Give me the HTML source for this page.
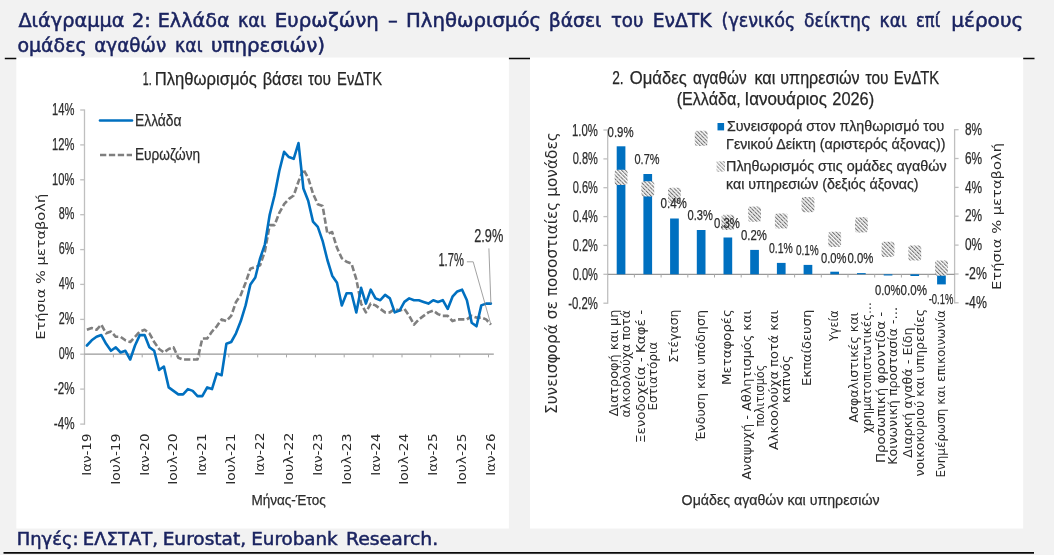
<!DOCTYPE html>
<html lang="el"><head><meta charset="utf-8"><title>Διάγραμμα 2</title><style>html,body{margin:0;padding:0;background:#f2f2f2}svg{display:block;filter:blur(0.45px)}</style></head><body>
<svg width="1054" height="555" viewBox="0 0 1054 555">
<defs><pattern id="hatch" width="2.7" height="4.6" patternUnits="userSpaceOnUse" patternTransform="rotate(-45)"><rect width="2.7" height="4.6" fill="#fbfbfb"/><rect width="1.1" height="4.6" fill="#6e6e6e"/><rect width="1.1" height="1.1" y="1.8" fill="#b5b5b5"/></pattern></defs>
<rect x="0.0" y="0.0" width="1054.0" height="555.0" fill="#f2f2f2" />
<line x1="4.8" y1="58.5" x2="1034.5" y2="58.5" stroke="#0a0a0a" stroke-width="1.7" />
<line x1="3.5" y1="552.8" x2="1034.0" y2="552.8" stroke="#0a0a0a" stroke-width="1.7" />
<rect x="16.3" y="57.1" width="492.6" height="471.4" fill="#ffffff" />
<rect x="530.0" y="57.1" width="493.2" height="471.4" fill="#ffffff" />
<text x="18.40" y="26.60" font-family='"DejaVu Sans", "Liberation Sans", sans-serif' font-size="19.5" fill="#1a2360" textLength="106.04" lengthAdjust="spacingAndGlyphs" stroke="#1a2360" stroke-width="0.5">Διάγραμμα</text>
<text x="132.01" y="26.60" font-family='"DejaVu Sans", "Liberation Sans", sans-serif' font-size="19.5" fill="#1a2360" textLength="18.85" lengthAdjust="spacingAndGlyphs" stroke="#1a2360" stroke-width="0.5">2:</text>
<text x="157.72" y="26.60" font-family='"DejaVu Sans", "Liberation Sans", sans-serif' font-size="19.5" fill="#1a2360" textLength="71.93" lengthAdjust="spacingAndGlyphs" stroke="#1a2360" stroke-width="0.5">Ελλάδα</text>
<text x="237.89" y="26.60" font-family='"DejaVu Sans", "Liberation Sans", sans-serif' font-size="19.5" fill="#1a2360" textLength="28.15" lengthAdjust="spacingAndGlyphs" stroke="#1a2360" stroke-width="0.5">και</text>
<text x="274.89" y="26.60" font-family='"DejaVu Sans", "Liberation Sans", sans-serif' font-size="19.5" fill="#1a2360" textLength="103.89" lengthAdjust="spacingAndGlyphs" stroke="#1a2360" stroke-width="0.5">Ευρωζώνη</text>
<text x="388.00" y="26.60" font-family='"DejaVu Sans", "Liberation Sans", sans-serif' font-size="19.5" fill="#1a2360" textLength="9.75" lengthAdjust="spacingAndGlyphs" stroke="#1a2360" stroke-width="0.5">–</text>
<text x="406.09" y="26.60" font-family='"DejaVu Sans", "Liberation Sans", sans-serif' font-size="19.5" fill="#1a2360" textLength="135.07" lengthAdjust="spacingAndGlyphs" stroke="#1a2360" stroke-width="0.5">Πληθωρισμός</text>
<text x="548.74" y="26.60" font-family='"DejaVu Sans", "Liberation Sans", sans-serif' font-size="19.5" fill="#1a2360" textLength="52.64" lengthAdjust="spacingAndGlyphs" stroke="#1a2360" stroke-width="0.5">βάσει</text>
<text x="610.90" y="26.60" font-family='"DejaVu Sans", "Liberation Sans", sans-serif' font-size="19.5" fill="#1a2360" textLength="32.66" lengthAdjust="spacingAndGlyphs" stroke="#1a2360" stroke-width="0.5">του</text>
<text x="652.74" y="26.60" font-family='"DejaVu Sans", "Liberation Sans", sans-serif' font-size="19.5" fill="#1a2360" textLength="58.80" lengthAdjust="spacingAndGlyphs" stroke="#1a2360" stroke-width="0.5">ΕνΔΤΚ</text>
<text x="721.60" y="26.60" font-family='"DejaVu Sans", "Liberation Sans", sans-serif' font-size="19.5" fill="#1a2360" textLength="73.70" lengthAdjust="spacingAndGlyphs" stroke="#1a2360" stroke-width="0.5">(γενικός</text>
<text x="804.12" y="26.60" font-family='"DejaVu Sans", "Liberation Sans", sans-serif' font-size="19.5" fill="#1a2360" textLength="66.95" lengthAdjust="spacingAndGlyphs" stroke="#1a2360" stroke-width="0.5">δείκτης</text>
<text x="879.52" y="26.60" font-family='"DejaVu Sans", "Liberation Sans", sans-serif' font-size="19.5" fill="#1a2360" textLength="27.31" lengthAdjust="spacingAndGlyphs" stroke="#1a2360" stroke-width="0.5">και</text>
<text x="916.07" y="26.60" font-family='"DejaVu Sans", "Liberation Sans", sans-serif' font-size="19.5" fill="#1a2360" textLength="24.10" lengthAdjust="spacingAndGlyphs" stroke="#1a2360" stroke-width="0.5">επί</text>
<text x="951.27" y="26.60" font-family='"DejaVu Sans", "Liberation Sans", sans-serif' font-size="19.5" fill="#1a2360" textLength="72.02" lengthAdjust="spacingAndGlyphs" stroke="#1a2360" stroke-width="0.5">μέρους</text>
<text x="17.43" y="51.80" font-family='"DejaVu Sans", "Liberation Sans", sans-serif' font-size="19.5" fill="#1a2360" textLength="69.18" lengthAdjust="spacingAndGlyphs" stroke="#1a2360" stroke-width="0.5">ομάδες</text>
<text x="94.26" y="51.80" font-family='"DejaVu Sans", "Liberation Sans", sans-serif' font-size="19.5" fill="#1a2360" textLength="71.88" lengthAdjust="spacingAndGlyphs" stroke="#1a2360" stroke-width="0.5">αγαθών</text>
<text x="175.11" y="51.80" font-family='"DejaVu Sans", "Liberation Sans", sans-serif' font-size="19.5" fill="#1a2360" textLength="27.42" lengthAdjust="spacingAndGlyphs" stroke="#1a2360" stroke-width="0.5">και</text>
<text x="210.98" y="51.80" font-family='"DejaVu Sans", "Liberation Sans", sans-serif' font-size="19.5" fill="#1a2360" textLength="114.05" lengthAdjust="spacingAndGlyphs" stroke="#1a2360" stroke-width="0.5">υπηρεσιών)</text>
<text x="16.80" y="544.80" font-family='"DejaVu Sans", "Liberation Sans", sans-serif' font-size="18" fill="#1a2360" textLength="61.65" lengthAdjust="spacingAndGlyphs" stroke="#1a2360" stroke-width="0.5">Πηγές:</text>
<text x="82.80" y="544.80" font-family='"DejaVu Sans", "Liberation Sans", sans-serif' font-size="18" fill="#1a2360" textLength="75.23" lengthAdjust="spacingAndGlyphs" stroke="#1a2360" stroke-width="0.5">ΕΛΣΤΑΤ,</text>
<text x="162.67" y="544.80" font-family='"DejaVu Sans", "Liberation Sans", sans-serif' font-size="18" fill="#1a2360" textLength="83.50" lengthAdjust="spacingAndGlyphs" stroke="#1a2360" stroke-width="0.5">Eurostat,</text>
<text x="251.28" y="544.80" font-family='"DejaVu Sans", "Liberation Sans", sans-serif' font-size="18" fill="#1a2360" textLength="86.43" lengthAdjust="spacingAndGlyphs" stroke="#1a2360" stroke-width="0.5">Eurobank</text>
<text x="345.95" y="544.80" font-family='"DejaVu Sans", "Liberation Sans", sans-serif' font-size="18" fill="#1a2360" textLength="92.35" lengthAdjust="spacingAndGlyphs" stroke="#1a2360" stroke-width="0.5">Research.</text>
<text x="142.82" y="85.30" font-family='"Liberation Sans", sans-serif' font-size="18" fill="#262626" stroke="#262626" stroke-width="0.25" textLength="8.77" lengthAdjust="spacingAndGlyphs" >1.</text>
<text x="154.78" y="85.30" font-family='"Liberation Sans", sans-serif' font-size="18" fill="#262626" stroke="#262626" stroke-width="0.25" textLength="102.02" lengthAdjust="spacingAndGlyphs" >Πληθωρισμός</text>
<text x="262.69" y="85.30" font-family='"Liberation Sans", sans-serif' font-size="18" fill="#262626" stroke="#262626" stroke-width="0.25" textLength="39.81" lengthAdjust="spacingAndGlyphs" >βάσει</text>
<text x="308.00" y="85.30" font-family='"Liberation Sans", sans-serif' font-size="18" fill="#262626" stroke="#262626" stroke-width="0.25" textLength="22.92" lengthAdjust="spacingAndGlyphs" >του</text>
<text x="337.08" y="85.30" font-family='"Liberation Sans", sans-serif' font-size="18" fill="#262626" stroke="#262626" stroke-width="0.25" textLength="45.13" lengthAdjust="spacingAndGlyphs" >ΕνΔΤΚ</text>
<line x1="84.5" y1="109.4" x2="84.5" y2="424.7" stroke="#bfbfbf" stroke-width="1.3" />
<line x1="80.2" y1="424.1" x2="84.5" y2="424.1" stroke="#bfbfbf" stroke-width="1.3" />
<text x="53.80" y="428.85" font-family='"Liberation Sans", sans-serif' font-size="16" fill="#2c2c2c" stroke="#2c2c2c" stroke-width="0.25" textLength="20.66" lengthAdjust="spacingAndGlyphs" >-4%</text>
<line x1="80.2" y1="389.1" x2="84.5" y2="389.1" stroke="#bfbfbf" stroke-width="1.3" />
<text x="53.80" y="393.95" font-family='"Liberation Sans", sans-serif' font-size="16" fill="#2c2c2c" stroke="#2c2c2c" stroke-width="0.25" textLength="20.66" lengthAdjust="spacingAndGlyphs" >-2%</text>
<line x1="80.2" y1="354.2" x2="84.5" y2="354.2" stroke="#bfbfbf" stroke-width="1.3" />
<text x="58.80" y="359.05" font-family='"Liberation Sans", sans-serif' font-size="16" fill="#2c2c2c" stroke="#2c2c2c" stroke-width="0.25" textLength="15.65" lengthAdjust="spacingAndGlyphs" >0%</text>
<line x1="80.2" y1="319.4" x2="84.5" y2="319.4" stroke="#bfbfbf" stroke-width="1.3" />
<text x="58.80" y="324.15" font-family='"Liberation Sans", sans-serif' font-size="16" fill="#2c2c2c" stroke="#2c2c2c" stroke-width="0.25" textLength="15.65" lengthAdjust="spacingAndGlyphs" >2%</text>
<line x1="80.2" y1="284.4" x2="84.5" y2="284.4" stroke="#bfbfbf" stroke-width="1.3" />
<text x="58.80" y="289.25" font-family='"Liberation Sans", sans-serif' font-size="16" fill="#2c2c2c" stroke="#2c2c2c" stroke-width="0.25" textLength="15.65" lengthAdjust="spacingAndGlyphs" >4%</text>
<line x1="80.2" y1="249.6" x2="84.5" y2="249.6" stroke="#bfbfbf" stroke-width="1.3" />
<text x="58.80" y="254.35" font-family='"Liberation Sans", sans-serif' font-size="16" fill="#2c2c2c" stroke="#2c2c2c" stroke-width="0.25" textLength="15.65" lengthAdjust="spacingAndGlyphs" >6%</text>
<line x1="80.2" y1="214.7" x2="84.5" y2="214.7" stroke="#bfbfbf" stroke-width="1.3" />
<text x="58.80" y="219.45" font-family='"Liberation Sans", sans-serif' font-size="16" fill="#2c2c2c" stroke="#2c2c2c" stroke-width="0.25" textLength="15.65" lengthAdjust="spacingAndGlyphs" >8%</text>
<line x1="80.2" y1="179.8" x2="84.5" y2="179.8" stroke="#bfbfbf" stroke-width="1.3" />
<text x="52.10" y="184.55" font-family='"Liberation Sans", sans-serif' font-size="16" fill="#2c2c2c" stroke="#2c2c2c" stroke-width="0.25" textLength="22.36" lengthAdjust="spacingAndGlyphs" >10%</text>
<line x1="80.2" y1="144.9" x2="84.5" y2="144.9" stroke="#bfbfbf" stroke-width="1.3" />
<text x="52.10" y="149.65" font-family='"Liberation Sans", sans-serif' font-size="16" fill="#2c2c2c" stroke="#2c2c2c" stroke-width="0.25" textLength="22.36" lengthAdjust="spacingAndGlyphs" >12%</text>
<line x1="80.2" y1="110.0" x2="84.5" y2="110.0" stroke="#bfbfbf" stroke-width="1.3" />
<text x="52.10" y="114.75" font-family='"Liberation Sans", sans-serif' font-size="16" fill="#2c2c2c" stroke="#2c2c2c" stroke-width="0.25" textLength="22.36" lengthAdjust="spacingAndGlyphs" >14%</text>
<line x1="84.5" y1="354.2" x2="493.8" y2="354.2" stroke="#999999" stroke-width="1.3" />
<line x1="113.4" y1="354.2" x2="113.4" y2="357.4" stroke="#a8a8a8" stroke-width="1.0" />
<line x1="142.2" y1="354.2" x2="142.2" y2="357.4" stroke="#a8a8a8" stroke-width="1.0" />
<line x1="171.1" y1="354.2" x2="171.1" y2="357.4" stroke="#a8a8a8" stroke-width="1.0" />
<line x1="199.9" y1="354.2" x2="199.9" y2="357.4" stroke="#a8a8a8" stroke-width="1.0" />
<line x1="228.8" y1="354.2" x2="228.8" y2="357.4" stroke="#a8a8a8" stroke-width="1.0" />
<line x1="257.7" y1="354.2" x2="257.7" y2="357.4" stroke="#a8a8a8" stroke-width="1.0" />
<line x1="286.5" y1="354.2" x2="286.5" y2="357.4" stroke="#a8a8a8" stroke-width="1.0" />
<line x1="315.4" y1="354.2" x2="315.4" y2="357.4" stroke="#a8a8a8" stroke-width="1.0" />
<line x1="344.2" y1="354.2" x2="344.2" y2="357.4" stroke="#a8a8a8" stroke-width="1.0" />
<line x1="373.1" y1="354.2" x2="373.1" y2="357.4" stroke="#a8a8a8" stroke-width="1.0" />
<line x1="402.0" y1="354.2" x2="402.0" y2="357.4" stroke="#a8a8a8" stroke-width="1.0" />
<line x1="430.8" y1="354.2" x2="430.8" y2="357.4" stroke="#a8a8a8" stroke-width="1.0" />
<line x1="459.7" y1="354.2" x2="459.7" y2="357.4" stroke="#a8a8a8" stroke-width="1.0" />
<line x1="488.5" y1="354.2" x2="488.5" y2="357.4" stroke="#a8a8a8" stroke-width="1.0" />
<text transform="translate(90.91,475.83) rotate(-90)" font-family='"DejaVu Sans", "Liberation Sans", sans-serif' font-size="13" fill="#2c2c2c" textLength="42.32" lengthAdjust="spacingAndGlyphs" >Ιαν-19</text>
<text transform="translate(119.77,484.86) rotate(-90)" font-family='"DejaVu Sans", "Liberation Sans", sans-serif' font-size="13" fill="#2c2c2c" textLength="51.35" lengthAdjust="spacingAndGlyphs" >Ιουλ-19</text>
<text transform="translate(148.62,475.83) rotate(-90)" font-family='"DejaVu Sans", "Liberation Sans", sans-serif' font-size="13" fill="#2c2c2c" textLength="42.32" lengthAdjust="spacingAndGlyphs" >Ιαν-20</text>
<text transform="translate(177.49,484.86) rotate(-90)" font-family='"DejaVu Sans", "Liberation Sans", sans-serif' font-size="13" fill="#2c2c2c" textLength="51.35" lengthAdjust="spacingAndGlyphs" >Ιουλ-20</text>
<text transform="translate(206.34,475.83) rotate(-90)" font-family='"DejaVu Sans", "Liberation Sans", sans-serif' font-size="13" fill="#2c2c2c" textLength="42.32" lengthAdjust="spacingAndGlyphs" >Ιαν-21</text>
<text transform="translate(235.20,484.86) rotate(-90)" font-family='"DejaVu Sans", "Liberation Sans", sans-serif' font-size="13" fill="#2c2c2c" textLength="51.35" lengthAdjust="spacingAndGlyphs" >Ιουλ-21</text>
<text transform="translate(264.06,475.86) rotate(-90)" font-family='"DejaVu Sans", "Liberation Sans", sans-serif' font-size="13" fill="#2c2c2c" textLength="43.41" lengthAdjust="spacingAndGlyphs" >Ιαν-22</text>
<text transform="translate(292.92,484.89) rotate(-90)" font-family='"DejaVu Sans", "Liberation Sans", sans-serif' font-size="13" fill="#2c2c2c" textLength="52.47" lengthAdjust="spacingAndGlyphs" >Ιουλ-22</text>
<text transform="translate(321.78,475.83) rotate(-90)" font-family='"DejaVu Sans", "Liberation Sans", sans-serif' font-size="13" fill="#2c2c2c" textLength="42.32" lengthAdjust="spacingAndGlyphs" >Ιαν-23</text>
<text transform="translate(350.64,484.86) rotate(-90)" font-family='"DejaVu Sans", "Liberation Sans", sans-serif' font-size="13" fill="#2c2c2c" textLength="51.35" lengthAdjust="spacingAndGlyphs" >Ιουλ-23</text>
<text transform="translate(379.50,475.83) rotate(-90)" font-family='"DejaVu Sans", "Liberation Sans", sans-serif' font-size="13" fill="#2c2c2c" textLength="42.32" lengthAdjust="spacingAndGlyphs" >Ιαν-24</text>
<text transform="translate(408.36,484.86) rotate(-90)" font-family='"DejaVu Sans", "Liberation Sans", sans-serif' font-size="13" fill="#2c2c2c" textLength="51.35" lengthAdjust="spacingAndGlyphs" >Ιουλ-24</text>
<text transform="translate(437.22,475.83) rotate(-90)" font-family='"DejaVu Sans", "Liberation Sans", sans-serif' font-size="13" fill="#2c2c2c" textLength="42.32" lengthAdjust="spacingAndGlyphs" >Ιαν-25</text>
<text transform="translate(466.08,484.86) rotate(-90)" font-family='"DejaVu Sans", "Liberation Sans", sans-serif' font-size="13" fill="#2c2c2c" textLength="51.35" lengthAdjust="spacingAndGlyphs" >Ιουλ-25</text>
<text transform="translate(494.94,475.83) rotate(-90)" font-family='"DejaVu Sans", "Liberation Sans", sans-serif' font-size="13" fill="#2c2c2c" textLength="42.32" lengthAdjust="spacingAndGlyphs" >Ιαν-26</text>
<text x="251.43" y="505.30" font-family='"Liberation Sans", sans-serif' font-size="15.5" fill="#2c2c2c" stroke="#2c2c2c" stroke-width="0.25" textLength="74.28" lengthAdjust="spacingAndGlyphs" >Μήνας-Έτος</text>
<text transform="translate(44.60,339.72) rotate(-90)" font-family='"DejaVu Sans", "Liberation Sans", sans-serif' font-size="13" fill="#2c2c2c" textLength="145.89" lengthAdjust="spacingAndGlyphs" >Ετήσια % μεταβολή</text>
<polyline points="86.9,329.8 91.7,328.1 96.5,329.8 101.3,324.6 106.1,333.3 111.0,331.6 115.8,336.8 120.6,336.8 125.4,340.3 130.2,342.0 135.0,336.8 139.8,331.6 144.6,329.8 149.4,333.3 154.2,342.0 159.1,349.0 163.9,352.5 168.7,349.0 173.5,347.3 178.3,357.7 183.1,359.5 187.9,359.5 192.7,359.5 197.5,359.5 202.3,338.5 207.2,338.5 212.0,331.6 216.8,326.3 221.6,319.4 226.4,321.1 231.2,315.9 236.0,301.9 240.8,294.9 245.6,282.7 250.4,268.7 255.3,267.0 260.1,265.3 264.9,251.3 269.7,225.1 274.5,225.1 279.3,212.9 284.1,204.2 288.9,198.9 293.7,195.5 298.5,181.5 303.4,169.3 308.2,178.0 313.0,193.7 317.8,204.2 322.6,205.9 327.4,233.8 332.2,232.1 337.0,247.8 341.8,258.3 346.6,261.8 351.5,263.5 356.3,279.2 361.1,303.6 365.9,312.4 370.7,303.6 375.5,305.4 380.3,308.9 385.1,312.4 389.9,312.4 394.7,308.9 399.6,310.6 404.4,308.9 409.2,315.9 414.0,324.6 418.8,319.4 423.6,315.9 428.4,312.4 433.2,310.6 438.0,314.1 442.8,315.9 447.7,315.9 452.5,321.1 457.3,319.4 462.1,319.4 466.9,319.4 471.7,315.9 476.5,317.6 481.3,317.6 486.1,319.4 490.9,324.6" fill="none" stroke="#7f7f7f" stroke-width="2.6" stroke-linejoin="round" stroke-linecap="butt" stroke-dasharray="6.3 2.6"/>
<polyline points="86.9,345.5 91.7,340.3 96.5,336.8 101.3,335.1 106.1,343.8 111.0,350.8 115.8,347.3 120.6,352.5 125.4,350.8 130.2,359.5 135.0,345.5 139.8,335.1 144.6,335.1 149.4,347.3 154.2,350.8 159.1,370.0 163.9,366.5 168.7,387.4 173.5,390.9 178.3,394.4 183.1,394.4 187.9,389.1 192.7,390.9 197.5,396.1 202.3,396.1 207.2,387.4 212.0,389.1 216.8,373.4 221.6,375.2 226.4,343.8 231.2,342.0 236.0,333.3 240.8,321.1 245.6,305.4 250.4,284.4 255.3,277.5 260.1,258.3 264.9,244.3 269.7,214.7 274.5,195.5 279.3,171.0 284.1,151.8 288.9,157.1 293.7,158.8 298.5,143.1 303.4,188.5 308.2,200.7 313.0,221.6 317.8,226.9 322.6,240.8 327.4,260.0 332.2,275.7 337.0,282.7 341.8,305.4 346.6,293.2 351.5,293.2 356.3,312.4 361.1,287.9 365.9,303.6 370.7,289.7 375.5,298.4 380.3,300.2 385.1,294.9 389.9,298.4 394.7,312.4 399.6,310.6 404.4,301.9 409.2,298.4 414.0,300.2 418.8,300.2 423.6,301.9 428.4,303.6 433.2,300.2 438.0,301.9 442.8,300.2 447.7,308.9 452.5,296.7 457.3,291.4 462.1,289.7 466.9,300.2 471.7,322.8 476.5,326.3 481.3,305.4 486.1,303.6 490.9,303.6" fill="none" stroke="#0070c0" stroke-width="2.6" stroke-linejoin="round" stroke-linecap="round" />
<line x1="100.0" y1="120.5" x2="132.0" y2="120.5" stroke="#0070c0" stroke-width="2.6" stroke-linecap="round"/>
<text x="134.96" y="125.70" font-family='"Liberation Sans", sans-serif' font-size="16.5" fill="#2c2c2c" stroke="#2c2c2c" stroke-width="0.25" textLength="46.65" lengthAdjust="spacingAndGlyphs" >Ελλάδα</text>
<line x1="100.0" y1="155.0" x2="132.0" y2="155.0" stroke="#7f7f7f" stroke-width="2.6" stroke-dasharray="6.3 2.6"/>
<text x="134.97" y="160.20" font-family='"Liberation Sans", sans-serif' font-size="16.5" fill="#2c2c2c" stroke="#2c2c2c" stroke-width="0.25" textLength="65.17" lengthAdjust="spacingAndGlyphs" >Ευρωζώνη</text>
<text x="474.20" y="241.50" font-family='"Liberation Sans", sans-serif' font-size="18" fill="#2c2c2c" stroke="#2c2c2c" stroke-width="0.25" textLength="29.00" lengthAdjust="spacingAndGlyphs" >2.9%</text>
<text x="438.38" y="266.20" font-family='"Liberation Sans", sans-serif' font-size="18" fill="#2c2c2c" stroke="#2c2c2c" stroke-width="0.25" textLength="25.42" lengthAdjust="spacingAndGlyphs" >1.7%</text>
<polyline points="488.9,248.4 490.9,303.6" fill="none" stroke="#8a8a8a" stroke-width="0.8"/>
<polyline points="466.9,261.8 473.2,261.8 490.9,324.6" fill="none" stroke="#8a8a8a" stroke-width="0.8"/>
<text x="612.20" y="84.00" font-family='"Liberation Sans", sans-serif' font-size="18" fill="#262626" stroke="#262626" stroke-width="0.25" textLength="11.46" lengthAdjust="spacingAndGlyphs" >2.</text>
<text x="629.80" y="84.00" font-family='"Liberation Sans", sans-serif' font-size="18" fill="#262626" stroke="#262626" stroke-width="0.25" textLength="56.90" lengthAdjust="spacingAndGlyphs" >Ομάδες</text>
<text x="693.00" y="84.00" font-family='"Liberation Sans", sans-serif' font-size="18" fill="#262626" stroke="#262626" stroke-width="0.25" textLength="53.70" lengthAdjust="spacingAndGlyphs" >αγαθών</text>
<text x="754.40" y="84.00" font-family='"Liberation Sans", sans-serif' font-size="18" fill="#262626" stroke="#262626" stroke-width="0.25" textLength="20.90" lengthAdjust="spacingAndGlyphs" >και</text>
<text x="780.20" y="84.00" font-family='"Liberation Sans", sans-serif' font-size="18" fill="#262626" stroke="#262626" stroke-width="0.25" textLength="79.50" lengthAdjust="spacingAndGlyphs" >υπηρεσιών</text>
<text x="865.60" y="84.00" font-family='"Liberation Sans", sans-serif' font-size="18" fill="#262626" stroke="#262626" stroke-width="0.25" textLength="22.92" lengthAdjust="spacingAndGlyphs" >του</text>
<text x="893.87" y="84.00" font-family='"Liberation Sans", sans-serif' font-size="18" fill="#262626" stroke="#262626" stroke-width="0.25" textLength="45.43" lengthAdjust="spacingAndGlyphs" >ΕνΔΤΚ</text>
<text x="676.70" y="104.90" font-family='"Liberation Sans", sans-serif' font-size="18" fill="#262626" stroke="#262626" stroke-width="0.25" textLength="64.09" lengthAdjust="spacingAndGlyphs" >(Ελλάδα,</text>
<text x="744.46" y="104.90" font-family='"Liberation Sans", sans-serif' font-size="18" fill="#262626" stroke="#262626" stroke-width="0.25" textLength="82.44" lengthAdjust="spacingAndGlyphs" >Ιανουάριος</text>
<text x="832.30" y="104.90" font-family='"Liberation Sans", sans-serif' font-size="18" fill="#262626" stroke="#262626" stroke-width="0.25" textLength="41.90" lengthAdjust="spacingAndGlyphs" >2026)</text>
<line x1="607.7" y1="129.4" x2="607.7" y2="303.8" stroke="#bfbfbf" stroke-width="1.3" />
<line x1="603.4" y1="303.2" x2="607.7" y2="303.2" stroke="#bfbfbf" stroke-width="1.3" />
<text x="568.20" y="308.66" font-family='"Liberation Sans", sans-serif' font-size="16" fill="#2c2c2c" stroke="#2c2c2c" stroke-width="0.25" textLength="29.66" lengthAdjust="spacingAndGlyphs" >-0.2%</text>
<line x1="603.4" y1="274.3" x2="607.7" y2="274.3" stroke="#bfbfbf" stroke-width="1.3" />
<text x="572.70" y="279.80" font-family='"Liberation Sans", sans-serif' font-size="16" fill="#2c2c2c" stroke="#2c2c2c" stroke-width="0.25" textLength="25.16" lengthAdjust="spacingAndGlyphs" >0.0%</text>
<line x1="603.4" y1="245.4" x2="607.7" y2="245.4" stroke="#bfbfbf" stroke-width="1.3" />
<text x="572.70" y="250.94" font-family='"Liberation Sans", sans-serif' font-size="16" fill="#2c2c2c" stroke="#2c2c2c" stroke-width="0.25" textLength="25.16" lengthAdjust="spacingAndGlyphs" >0.2%</text>
<line x1="603.4" y1="216.6" x2="607.7" y2="216.6" stroke="#bfbfbf" stroke-width="1.3" />
<text x="572.70" y="222.08" font-family='"Liberation Sans", sans-serif' font-size="16" fill="#2c2c2c" stroke="#2c2c2c" stroke-width="0.25" textLength="25.16" lengthAdjust="spacingAndGlyphs" >0.4%</text>
<line x1="603.4" y1="187.7" x2="607.7" y2="187.7" stroke="#bfbfbf" stroke-width="1.3" />
<text x="572.70" y="193.22" font-family='"Liberation Sans", sans-serif' font-size="16" fill="#2c2c2c" stroke="#2c2c2c" stroke-width="0.25" textLength="25.16" lengthAdjust="spacingAndGlyphs" >0.6%</text>
<line x1="603.4" y1="158.9" x2="607.7" y2="158.9" stroke="#bfbfbf" stroke-width="1.3" />
<text x="572.70" y="164.36" font-family='"Liberation Sans", sans-serif' font-size="16" fill="#2c2c2c" stroke="#2c2c2c" stroke-width="0.25" textLength="25.16" lengthAdjust="spacingAndGlyphs" >0.8%</text>
<line x1="603.4" y1="130.0" x2="607.7" y2="130.0" stroke="#bfbfbf" stroke-width="1.3" />
<text x="571.99" y="135.50" font-family='"Liberation Sans", sans-serif' font-size="16" fill="#2c2c2c" stroke="#2c2c2c" stroke-width="0.25" textLength="25.87" lengthAdjust="spacingAndGlyphs" >1.0%</text>
<line x1="954.6" y1="129.1" x2="954.6" y2="303.4" stroke="#bfbfbf" stroke-width="1.3" />
<line x1="954.6" y1="302.8" x2="958.6" y2="302.8" stroke="#bfbfbf" stroke-width="1.3" />
<text x="965.00" y="308.02" font-family='"Liberation Sans", sans-serif' font-size="16" fill="#2c2c2c" stroke="#2c2c2c" stroke-width="0.25" textLength="21.87" lengthAdjust="spacingAndGlyphs" >-4%</text>
<line x1="954.6" y1="274.0" x2="958.6" y2="274.0" stroke="#bfbfbf" stroke-width="1.3" />
<text x="965.00" y="279.16" font-family='"Liberation Sans", sans-serif' font-size="16" fill="#2c2c2c" stroke="#2c2c2c" stroke-width="0.25" textLength="21.87" lengthAdjust="spacingAndGlyphs" >-2%</text>
<line x1="954.6" y1="245.1" x2="958.6" y2="245.1" stroke="#bfbfbf" stroke-width="1.3" />
<text x="965.00" y="250.30" font-family='"Liberation Sans", sans-serif' font-size="16" fill="#2c2c2c" stroke="#2c2c2c" stroke-width="0.25" textLength="17.17" lengthAdjust="spacingAndGlyphs" >0%</text>
<line x1="954.6" y1="216.2" x2="958.6" y2="216.2" stroke="#bfbfbf" stroke-width="1.3" />
<text x="965.00" y="221.44" font-family='"Liberation Sans", sans-serif' font-size="16" fill="#2c2c2c" stroke="#2c2c2c" stroke-width="0.25" textLength="17.17" lengthAdjust="spacingAndGlyphs" >2%</text>
<line x1="954.6" y1="187.4" x2="958.6" y2="187.4" stroke="#bfbfbf" stroke-width="1.3" />
<text x="965.00" y="192.58" font-family='"Liberation Sans", sans-serif' font-size="16" fill="#2c2c2c" stroke="#2c2c2c" stroke-width="0.25" textLength="17.17" lengthAdjust="spacingAndGlyphs" >4%</text>
<line x1="954.6" y1="158.5" x2="958.6" y2="158.5" stroke="#bfbfbf" stroke-width="1.3" />
<text x="965.00" y="163.72" font-family='"Liberation Sans", sans-serif' font-size="16" fill="#2c2c2c" stroke="#2c2c2c" stroke-width="0.25" textLength="17.17" lengthAdjust="spacingAndGlyphs" >6%</text>
<line x1="954.6" y1="129.7" x2="958.6" y2="129.7" stroke="#bfbfbf" stroke-width="1.3" />
<text x="965.00" y="134.86" font-family='"Liberation Sans", sans-serif' font-size="16" fill="#2c2c2c" stroke="#2c2c2c" stroke-width="0.25" textLength="17.17" lengthAdjust="spacingAndGlyphs" >8%</text>
<line x1="607.7" y1="274.3" x2="954.6" y2="274.3" stroke="#999999" stroke-width="1.3" />
<line x1="634.4" y1="274.3" x2="634.4" y2="277.5" stroke="#a8a8a8" stroke-width="1.0" />
<line x1="661.1" y1="274.3" x2="661.1" y2="277.5" stroke="#a8a8a8" stroke-width="1.0" />
<line x1="687.8" y1="274.3" x2="687.8" y2="277.5" stroke="#a8a8a8" stroke-width="1.0" />
<line x1="714.5" y1="274.3" x2="714.5" y2="277.5" stroke="#a8a8a8" stroke-width="1.0" />
<line x1="741.2" y1="274.3" x2="741.2" y2="277.5" stroke="#a8a8a8" stroke-width="1.0" />
<line x1="767.9" y1="274.3" x2="767.9" y2="277.5" stroke="#a8a8a8" stroke-width="1.0" />
<line x1="794.6" y1="274.3" x2="794.6" y2="277.5" stroke="#a8a8a8" stroke-width="1.0" />
<line x1="821.3" y1="274.3" x2="821.3" y2="277.5" stroke="#a8a8a8" stroke-width="1.0" />
<line x1="848.0" y1="274.3" x2="848.0" y2="277.5" stroke="#a8a8a8" stroke-width="1.0" />
<line x1="874.7" y1="274.3" x2="874.7" y2="277.5" stroke="#a8a8a8" stroke-width="1.0" />
<line x1="901.4" y1="274.3" x2="901.4" y2="277.5" stroke="#a8a8a8" stroke-width="1.0" />
<line x1="928.1" y1="274.3" x2="928.1" y2="277.5" stroke="#a8a8a8" stroke-width="1.0" />
<rect x="616.7" y="146.3" width="8.7" height="128.0" fill="#0070c0" />
<rect x="643.4" y="174.0" width="8.7" height="100.3" fill="#0070c0" />
<rect x="670.1" y="218.5" width="8.7" height="55.8" fill="#0070c0" />
<rect x="696.8" y="230.0" width="8.7" height="44.3" fill="#0070c0" />
<rect x="723.5" y="237.5" width="8.7" height="36.8" fill="#0070c0" />
<rect x="750.2" y="249.9" width="8.7" height="24.4" fill="#0070c0" />
<rect x="776.9" y="262.9" width="8.7" height="11.4" fill="#0070c0" />
<rect x="803.6" y="264.9" width="8.7" height="9.4" fill="#0070c0" />
<rect x="830.3" y="271.7" width="8.7" height="2.6" fill="#0070c0" />
<rect x="857.0" y="273.1" width="8.7" height="1.2" fill="#0070c0" />
<rect x="883.7" y="274.3" width="8.7" height="1.2" fill="#0070c0" />
<rect x="910.4" y="274.3" width="8.7" height="1.7" fill="#0070c0" />
<rect x="937.1" y="274.3" width="8.7" height="10.1" fill="#0070c0" />
<rect x="614.7" y="169.7" width="12.8" height="15.2" rx="2.2" fill="url(#hatch)"/>
<rect x="641.4" y="181.2" width="12.8" height="15.2" rx="2.2" fill="url(#hatch)"/>
<rect x="668.1" y="187.7" width="12.8" height="15.2" rx="2.2" fill="url(#hatch)"/>
<rect x="694.8" y="130.7" width="12.8" height="15.2" rx="2.2" fill="url(#hatch)"/>
<rect x="721.5" y="214.8" width="12.8" height="15.2" rx="2.2" fill="url(#hatch)"/>
<rect x="748.2" y="206.5" width="12.8" height="15.2" rx="2.2" fill="url(#hatch)"/>
<rect x="774.9" y="213.4" width="12.8" height="15.2" rx="2.2" fill="url(#hatch)"/>
<rect x="801.6" y="197.1" width="12.8" height="15.2" rx="2.2" fill="url(#hatch)"/>
<rect x="828.3" y="231.7" width="12.8" height="15.2" rx="2.2" fill="url(#hatch)"/>
<rect x="855.0" y="217.3" width="12.8" height="15.2" rx="2.2" fill="url(#hatch)"/>
<rect x="881.6" y="241.8" width="12.8" height="15.2" rx="2.2" fill="url(#hatch)"/>
<rect x="908.4" y="245.4" width="12.8" height="15.2" rx="2.2" fill="url(#hatch)"/>
<rect x="935.1" y="260.6" width="12.8" height="15.2" rx="2.2" fill="url(#hatch)"/>
<text x="607.60" y="136.50" font-family='"Liberation Sans", sans-serif' font-size="14" fill="#2c2c2c" stroke="#2c2c2c" stroke-width="0.25" textLength="25.96" lengthAdjust="spacingAndGlyphs" >0.9%</text>
<text x="634.50" y="164.30" font-family='"Liberation Sans", sans-serif' font-size="14" fill="#2c2c2c" stroke="#2c2c2c" stroke-width="0.25" textLength="24.95" lengthAdjust="spacingAndGlyphs" >0.7%</text>
<text x="660.50" y="208.20" font-family='"Liberation Sans", sans-serif' font-size="14" fill="#2c2c2c" stroke="#2c2c2c" stroke-width="0.25" textLength="26.37" lengthAdjust="spacingAndGlyphs" >0.4%</text>
<text x="687.50" y="220.00" font-family='"Liberation Sans", sans-serif' font-size="14" fill="#2c2c2c" stroke="#2c2c2c" stroke-width="0.25" textLength="25.36" lengthAdjust="spacingAndGlyphs" >0.3%</text>
<text x="714.05" y="227.60" font-family='"Liberation Sans", sans-serif' font-size="14" fill="#2c2c2c" stroke="#2c2c2c" stroke-width="0.25" textLength="25.86" lengthAdjust="spacingAndGlyphs" >0.3%</text>
<text x="741.05" y="240.10" font-family='"Liberation Sans", sans-serif' font-size="14" fill="#2c2c2c" stroke="#2c2c2c" stroke-width="0.25" textLength="25.86" lengthAdjust="spacingAndGlyphs" >0.2%</text>
<text x="769.00" y="253.00" font-family='"Liberation Sans", sans-serif' font-size="14" fill="#2c2c2c" stroke="#2c2c2c" stroke-width="0.25" textLength="23.73" lengthAdjust="spacingAndGlyphs" >0.1%</text>
<text x="795.90" y="255.00" font-family='"Liberation Sans", sans-serif' font-size="14" fill="#2c2c2c" stroke="#2c2c2c" stroke-width="0.25" textLength="22.92" lengthAdjust="spacingAndGlyphs" >0.1%</text>
<text x="820.90" y="262.50" font-family='"Liberation Sans", sans-serif' font-size="14" fill="#2c2c2c" stroke="#2c2c2c" stroke-width="0.25" textLength="25.56" lengthAdjust="spacingAndGlyphs" >0.0%</text>
<text x="847.45" y="262.50" font-family='"Liberation Sans", sans-serif' font-size="14" fill="#2c2c2c" stroke="#2c2c2c" stroke-width="0.25" textLength="25.86" lengthAdjust="spacingAndGlyphs" >0.0%</text>
<text x="874.90" y="295.20" font-family='"Liberation Sans", sans-serif' font-size="14" fill="#2c2c2c" stroke="#2c2c2c" stroke-width="0.25" textLength="25.56" lengthAdjust="spacingAndGlyphs" >0.0%</text>
<text x="900.60" y="295.20" font-family='"Liberation Sans", sans-serif' font-size="14" fill="#2c2c2c" stroke="#2c2c2c" stroke-width="0.25" textLength="26.37" lengthAdjust="spacingAndGlyphs" >0.0%</text>
<text x="928.70" y="303.60" font-family='"Liberation Sans", sans-serif' font-size="14" fill="#2c2c2c" stroke="#2c2c2c" stroke-width="0.25" textLength="24.70" lengthAdjust="spacingAndGlyphs" >-0.1%</text>
<rect x="717.5" y="123.0" width="6.6" height="7.4" fill="#0070c0" />
<text x="727.00" y="131.30" font-family='"Liberation Sans", sans-serif' font-size="15" fill="#2c2c2c" stroke="#2c2c2c" stroke-width="0.25" textLength="217.39" lengthAdjust="spacingAndGlyphs" >Συνεισφορά στον πληθωρισμό του</text>
<text x="726.06" y="149.00" font-family='"Liberation Sans", sans-serif' font-size="15" fill="#2c2c2c" stroke="#2c2c2c" stroke-width="0.25" textLength="219.34" lengthAdjust="spacingAndGlyphs" >Γενικού Δείκτη (αριστερός άξονας))</text>
<rect x="716.6" y="161.2" width="8.4" height="10.6" fill="url(#hatch)" opacity="0.75"/>
<text x="726.04" y="171.20" font-family='"Liberation Sans", sans-serif' font-size="15" fill="#2c2c2c" stroke="#2c2c2c" stroke-width="0.25" textLength="220.63" lengthAdjust="spacingAndGlyphs" >Πληθωρισμός στις ομάδες αγαθών</text>
<text x="726.05" y="188.90" font-family='"Liberation Sans", sans-serif' font-size="15" fill="#2c2c2c" stroke="#2c2c2c" stroke-width="0.25" textLength="192.54" lengthAdjust="spacingAndGlyphs" >και υπηρεσιών (δεξιός άξονας)</text>
<text transform="translate(556.50,414.02) rotate(-90)" font-family='"DejaVu Sans", "Liberation Sans", sans-serif' font-size="15" fill="#2c2c2c" textLength="281.85" lengthAdjust="spacingAndGlyphs" >Συνεισφορά σε ποσοστιαίες μονάδες</text>
<text transform="translate(1001.00,289.93) rotate(-90)" font-family='"DejaVu Sans", "Liberation Sans", sans-serif' font-size="13" fill="#2c2c2c" textLength="146.90" lengthAdjust="spacingAndGlyphs" >Ετήσια % μεταβολή</text>
<text x="681.60" y="505.30" font-family='"Liberation Sans", sans-serif' font-size="15.5" fill="#2c2c2c" stroke="#2c2c2c" stroke-width="0.25" textLength="197.97" lengthAdjust="spacingAndGlyphs" >Ομάδες αγαθών και υπηρεσιών</text>
<text transform="translate(617.85,416.20) rotate(-90)" font-family='"DejaVu Sans", "Liberation Sans", sans-serif' font-size="12" fill="#2c2c2c" textLength="106.55" lengthAdjust="spacingAndGlyphs" >Διατροφή και μη</text>
<text transform="translate(630.25,417.60) rotate(-90)" font-family='"DejaVu Sans", "Liberation Sans", sans-serif' font-size="12" fill="#2c2c2c" textLength="107.21" lengthAdjust="spacingAndGlyphs" >αλκοολούχα ποτά</text>
<text transform="translate(644.55,443.12) rotate(-90)" font-family='"DejaVu Sans", "Liberation Sans", sans-serif' font-size="12" fill="#2c2c2c" textLength="133.20" lengthAdjust="spacingAndGlyphs" >Ξενοδοχεία - Καφέ -</text>
<text transform="translate(656.95,410.60) rotate(-90)" font-family='"DejaVu Sans", "Liberation Sans", sans-serif' font-size="12" fill="#2c2c2c" textLength="68.71" lengthAdjust="spacingAndGlyphs" >Εστιατόρια</text>
<text transform="translate(677.85,362.73) rotate(-90)" font-family='"DejaVu Sans", "Liberation Sans", sans-serif' font-size="12" fill="#2c2c2c" textLength="53.05" lengthAdjust="spacingAndGlyphs" >Στέγαση</text>
<text transform="translate(704.55,440.94) rotate(-90)" font-family='"DejaVu Sans", "Liberation Sans", sans-serif' font-size="12" fill="#2c2c2c" textLength="130.98" lengthAdjust="spacingAndGlyphs" >Ένδυση και υπόδηση</text>
<text transform="translate(731.25,385.01) rotate(-90)" font-family='"DejaVu Sans", "Liberation Sans", sans-serif' font-size="12" fill="#2c2c2c" textLength="75.87" lengthAdjust="spacingAndGlyphs" >Μεταφορές</text>
<text transform="translate(751.35,479.80) rotate(-90)" font-family='"DejaVu Sans", "Liberation Sans", sans-serif' font-size="12" fill="#2c2c2c" textLength="169.56" lengthAdjust="spacingAndGlyphs" >Αναψυχή - Αθλητισμός και</text>
<text transform="translate(763.75,426.70) rotate(-90)" font-family='"DejaVu Sans", "Liberation Sans", sans-serif' font-size="12" fill="#2c2c2c" textLength="61.87" lengthAdjust="spacingAndGlyphs" >πολιτισμός</text>
<text transform="translate(778.05,450.00) rotate(-90)" font-family='"DejaVu Sans", "Liberation Sans", sans-serif' font-size="12" fill="#2c2c2c" textLength="139.77" lengthAdjust="spacingAndGlyphs" >Αλκοολούχα ποτά και</text>
<text transform="translate(790.45,403.10) rotate(-90)" font-family='"DejaVu Sans", "Liberation Sans", sans-serif' font-size="12" fill="#2c2c2c" textLength="47.75" lengthAdjust="spacingAndGlyphs" >καπνός</text>
<text transform="translate(811.35,386.09) rotate(-90)" font-family='"DejaVu Sans", "Liberation Sans", sans-serif' font-size="12" fill="#2c2c2c" textLength="76.46" lengthAdjust="spacingAndGlyphs" >Εκπαίδευση</text>
<text transform="translate(838.05,341.07) rotate(-90)" font-family='"DejaVu Sans", "Liberation Sans", sans-serif' font-size="12" fill="#2c2c2c" textLength="30.68" lengthAdjust="spacingAndGlyphs" >Υγεία</text>
<text transform="translate(858.15,422.60) rotate(-90)" font-family='"DejaVu Sans", "Liberation Sans", sans-serif' font-size="12" fill="#2c2c2c" textLength="110.36" lengthAdjust="spacingAndGlyphs" >Ασφαλιστικές και</text>
<text transform="translate(870.55,433.00) rotate(-90)" font-family='"DejaVu Sans", "Liberation Sans", sans-serif' font-size="12" fill="#2c2c2c" textLength="130.99" lengthAdjust="spacingAndGlyphs" >χρηματοπιστωτικές…</text>
<text transform="translate(884.85,463.11) rotate(-90)" font-family='"DejaVu Sans", "Liberation Sans", sans-serif' font-size="12" fill="#2c2c2c" textLength="151.18" lengthAdjust="spacingAndGlyphs" >Προσωπική φροντίδα -</text>
<text transform="translate(897.25,464.85) rotate(-90)" font-family='"DejaVu Sans", "Liberation Sans", sans-serif' font-size="12" fill="#2c2c2c" textLength="157.91" lengthAdjust="spacingAndGlyphs" >Κοινωνική προστασία -…</text>
<text transform="translate(911.55,457.80) rotate(-90)" font-family='"DejaVu Sans", "Liberation Sans", sans-serif' font-size="12" fill="#2c2c2c" textLength="130.44" lengthAdjust="spacingAndGlyphs" >Διαρκή αγαθά - Είδη</text>
<text transform="translate(923.95,476.60) rotate(-90)" font-family='"DejaVu Sans", "Liberation Sans", sans-serif' font-size="12" fill="#2c2c2c" textLength="167.69" lengthAdjust="spacingAndGlyphs" >νοικοκυριού και υπηρεσίες</text>
<text transform="translate(944.85,477.60) rotate(-90)" font-family='"DejaVu Sans", "Liberation Sans", sans-serif' font-size="12" fill="#2c2c2c" textLength="167.51" lengthAdjust="spacingAndGlyphs" >Ενημέρωση και επικοινωνία</text>
</svg>
</body></html>
